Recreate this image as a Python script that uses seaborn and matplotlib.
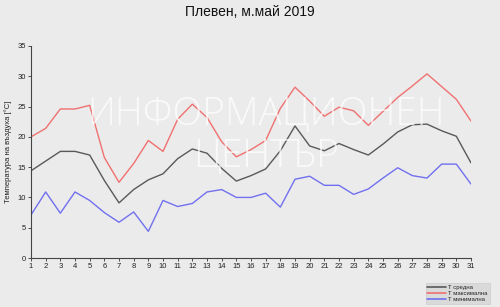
import matplotlib
matplotlib.use("Agg")
import matplotlib.pyplot as plt
import seaborn as sns
import pandas as pd

days = list(range(1, 32))
t_mean = [14.4, 16.0, 17.6, 17.6, 17.0, 12.8, 9.1, 11.3, 12.9, 13.9, 16.4, 18.0, 17.3, 14.8, 12.7,
          13.6, 14.7, 17.7, 21.8, 18.5, 17.7, 18.9, 17.9, 17.0, 18.8, 20.8, 22.0, 22.1, 21.0, 20.1, 15.7]
t_max = [20.0, 21.4, 24.6, 24.6, 25.2, 16.6, 12.5, 15.6, 19.4, 17.6, 22.9, 25.4, 23.2, 19.2, 16.7,
         17.9, 19.4, 24.7, 28.2, 25.9, 23.4, 24.9, 24.3, 21.9, 24.2, 26.5, 28.4, 30.4, 28.3, 26.2, 22.6]
t_min = [7.1, 10.9, 7.4, 10.9, 9.5, 7.5, 5.9, 7.6, 4.4, 9.5, 8.5, 9.0, 10.9, 11.3, 10.0,
         10.0, 10.7, 8.4, 13.0, 13.5, 12.0, 12.0, 10.5, 11.4, 13.2, 14.9, 13.6, 13.2, 15.5, 15.5, 12.2]
labels = ["Т средна", "Т максимална", "Т минимална"]
colors = ["#595959", "#f07070", "#7070f0"]
yticks = [0, 5, 10, 15, 20, 25, 30, 35]

df = pd.DataFrame({"day": days * 3,
                   "value": t_mean + t_max + t_min,
                   "series": [labels[0]] * 31 + [labels[1]] * 31 + [labels[2]] * 31})

sns.set_style("white")
plt.rcParams["font.family"] = ["Liberation Sans", "DejaVu Sans"]
bg = "#ebebeb"
fig = plt.figure(figsize=(5, 3.07), dpi=100, facecolor=bg)
ax = fig.add_axes([0.062, 0.1596, 0.88, 0.6906], facecolor=bg)

sns.lineplot(data=df, x="day", y="value", hue="series", palette=colors,
             hue_order=labels, ax=ax, linewidth=1.0, legend=False)

ax.set_xlim(1, 31)
ax.set_ylim(0, 35)
ax.set_xticks(days)
ax.set_yticks(yticks)
ax.tick_params(axis="both", labelsize=5.5, length=2, width=0.6, pad=1.5, colors="#333333",
               direction="out", labelcolor="#222222")
ax.tick_params(axis="both", which="both", bottom=True, left=True)
for s in ["top", "right"]:
    ax.spines[s].set_visible(False)
for s in ["left", "bottom"]:
    ax.spines[s].set_color("#444444")
    ax.spines[s].set_linewidth(0.8)
ax.set_xlabel("")
ax.set_ylabel("Температура на въздуха [°C]", fontsize=5.5, labelpad=4, color="#222222")

fig.text(0.5, 0.96, "Плевен, м.май 2019", ha="center", va="center", fontsize=10, color="#111111")

ax.text(0.532, 0.625, "ИНФОРМАЦИОНЕН", transform=fig.transFigure, ha="center", va="center",
        fontsize=28, color="white", alpha=0.75, family=["Open Sans", "DejaVu Sans"],
        fontweight="light")
ax.text(0.532, 0.49, "ЦЕНТЪР", transform=fig.transFigure, ha="center", va="center",
        fontsize=28, color="white", alpha=0.75, family=["Open Sans", "DejaVu Sans"],
        fontweight="light")

from matplotlib.lines import Line2D
handles = [Line2D([0], [0], color=c, lw=1.2) for c in colors]
leg = fig.legend(handles, labels, loc="lower right", bbox_to_anchor=(0.985, 0.0),
                 fontsize=4.3, frameon=True, fancybox=False, handlelength=3.2,
                 handletextpad=0.3, labelspacing=0.15, borderpad=0.3)
leg.get_frame().set_facecolor("#d6d6d6")
leg.get_frame().set_edgecolor("#c8c8c8")
leg.get_frame().set_linewidth(0.5)

fig.savefig("out.png", dpi=100, facecolor=bg)
